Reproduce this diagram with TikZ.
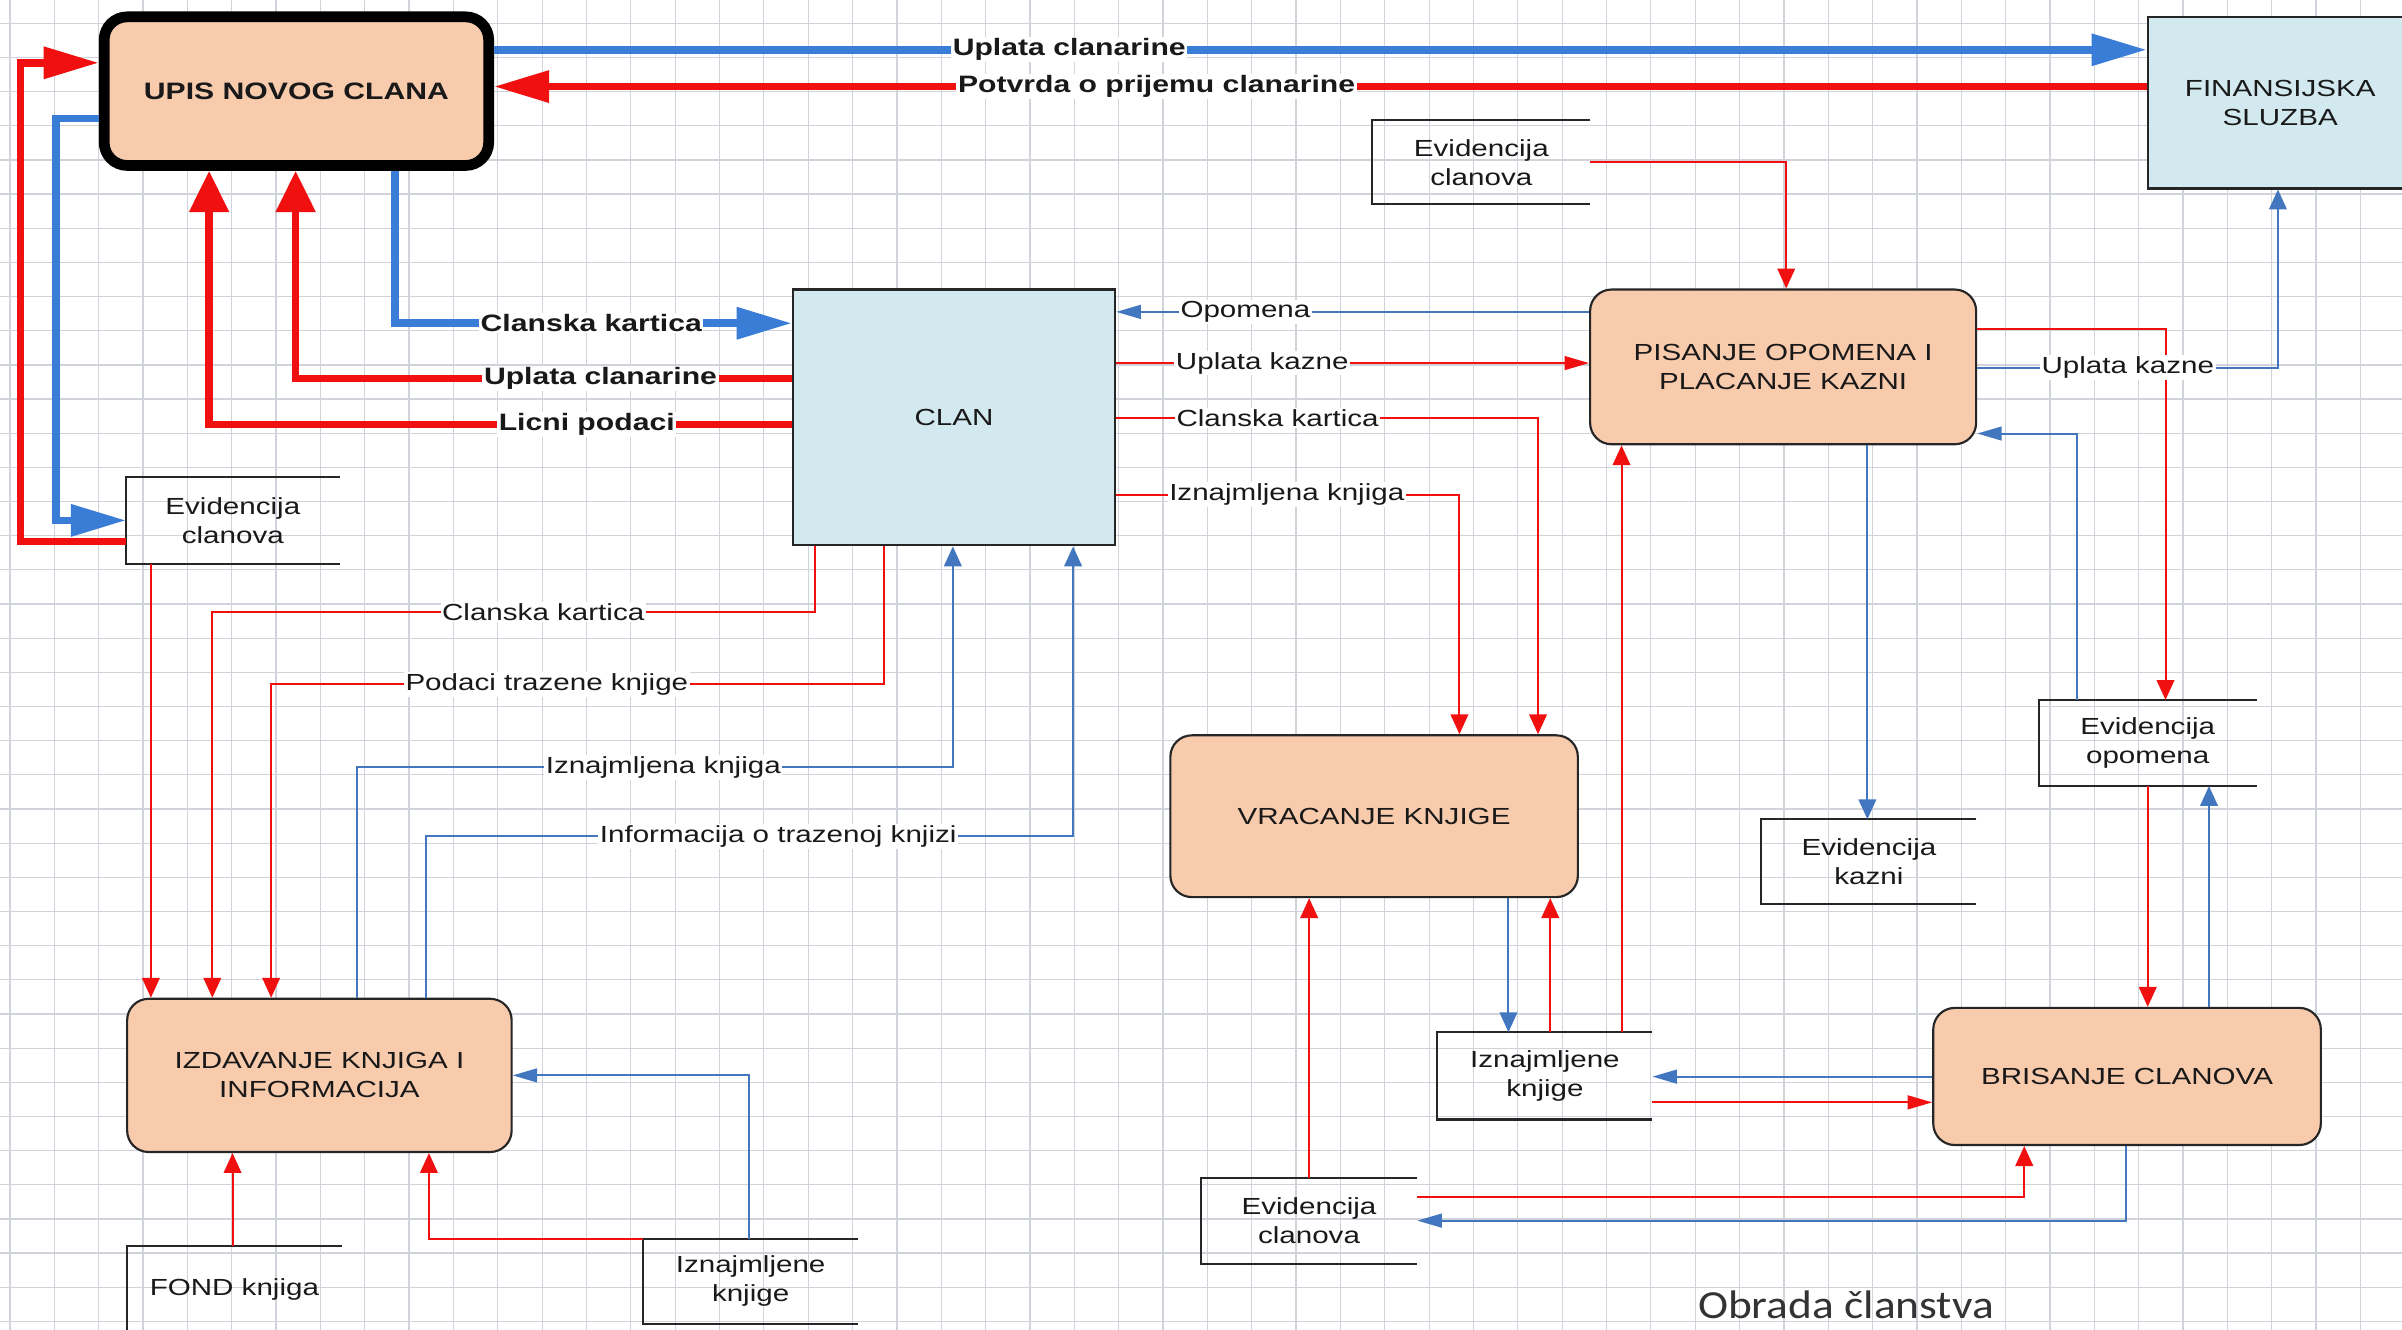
\documentclass[tikz,border=0pt]{standalone}
\usepackage{fontspec}
\setmainfont{Liberation Sans}[FakeStretch=1.27]
\newfontfamily\titlefont{Carlito}[FakeStretch=1.14]
\usetikzlibrary{arrows.meta}
\definecolor{peach}{RGB}{248,203,173}
\definecolor{lblue}{RGB}{210,233,240}
\definecolor{myred}{RGB}{240,16,16}
\definecolor{myblue}{RGB}{66,118,190}
\definecolor{tblue}{RGB}{58,125,214}
\definecolor{gridc}{RGB}{208,212,218}
\definecolor{txt}{RGB}{25,25,25}
\newcommand\myreg{\fontsize{15.2pt}{19pt}\selectfont}
\newcommand\mybold{\fontsize{15.5pt}{19pt}\selectfont\bfseries}
\begin{document}
\begin{tikzpicture}[x=1pt,y=-1pt,
  gridline/.style={draw=gridc, line width=0.8pt},
  proc/.style={draw=black!85, line width=1.4pt, rounded corners=14pt, fill=peach,
    inner sep=0pt, align=center, font=\myreg, text=txt},
  ent/.style={draw=black!85, line width=1.4pt, fill=lblue, inner sep=0pt,
    align=center, font=\myreg, text=txt},
  store/.style={inner sep=0pt, align=center, font=\myreg, text=txt},
  storeline/.style={draw=black!85, line width=1.4pt},
  tr/.style={draw=myred, line width=1.3pt},
  tb/.style={draw=myblue, line width=1.3pt},
  Tr/.style={draw=myred, line width=5pt},
  Tb/.style={draw=tblue, line width=5pt},
  aH/.style={-{Triangle[length=16pt,width=9pt]}},
  aV/.style={-{Triangle[length=13pt,width=11.5pt]}},
  AH/.style={-{Triangle[length=36pt,width=20pt]}},
  AV/.style={-{Triangle[length=27pt,width=25pt]}},
  lbl/.style={fill=white, inner xsep=1pt, inner ysep=1pt, font=\myreg, text=txt},
  blbl/.style={fill=white, inner xsep=1pt, inner ysep=1pt, font=\mybold, text=txt}
]
\useasboundingbox (0,0) rectangle (1568,868);
\clip (0,0) rectangle (1568,868);
\fill[white] (0,0) rectangle (1568,868);
\foreach \i in {0,...,54} \draw[gridline] ({6.5+28.95*\i},0) -- ({6.5+28.95*\i},868);
\foreach \j in {0,...,38} \draw[gridline] (0,{15.2+22.3*\j}) -- (1568,{15.2+22.3*\j});

% processes and entities
\node[proc, draw=black, line width=7pt, rounded corners=15pt, font=\mybold,
  minimum width=251pt, minimum height=97pt] (upis) at (193.5,59.5) {UPIS NOVOG CLANA};
\node[ent, minimum width=173pt, minimum height=112pt] (fin) at (1488.5,67) {FINANSIJSKA\\SLUZBA};
\node[ent, minimum width=210.4pt, minimum height=167pt] (clan) at (622.8,272.5) {CLAN};
\node[proc, minimum width=252pt, minimum height=101pt] (pis) at (1164,239.5) {PISANJE OPOMENA I\\PLACANJE KAZNI};
\node[proc, minimum width=266pt, minimum height=105.6pt] (vrac) at (897,532.8) {VRACANJE KNJIGE};
\node[proc, minimum width=251pt, minimum height=100pt] (izd) at (208.5,702) {IZDAVANJE KNJIGA I\\INFORMACIJA};
\node[proc, minimum width=253pt, minimum height=89.5pt] (bris) at (1388.5,702.7) {BRISANJE CLANOVA};

% data stores
\node[store, minimum width=142pt, minimum height=54.3pt] (ev1) at (967,105.9) {Evidencija\\clanova};
\node[store, minimum width=139pt, minimum height=56pt] (ev2) at (152,339.7) {Evidencija\\clanova};
\node[store, minimum width=142pt, minimum height=55.8pt] (evop) at (1402,485) {Evidencija\\opomena};
\node[store, minimum width=140pt, minimum height=55pt] (evk) at (1220,562.5) {Evidencija\\kazni};
\node[store, minimum width=140pt, minimum height=56.6pt] (izn1) at (1008.5,702.3) {Iznajmljene\\knjige};
\node[store, minimum width=141pt, minimum height=55.8pt] (ev3) at (854.5,797) {Evidencija\\clanova};
\node[store, minimum width=140pt, minimum height=56pt] (fond) at (153,841.5) {FOND knjiga};
\node[store, minimum width=140pt, minimum height=55pt] (izn2) at (490,836.4) {Iznajmljene\\knjige};
\foreach \s in {ev1,ev2,evop,evk,izn1,ev3,fond,izn2}
  \draw[storeline] (\s.north east) -- (\s.north west) -- (\s.south west) -- (\s.south east);

% thick connectors
\draw[Tb, AH] (upis.east |- 0,32.5) -- (fin.west |- 0,32.5);
\draw[Tr, AH] (fin.west |- 0,56.5) -- (upis.east |- 0,56.5);
\draw[Tb, AH] (upis.south -| 258,0) |- (clan.west |- 0,211);
\draw[Tr, AV] (clan.west |- 0,247) -| (upis.south -| 193,0);
\draw[Tr, AV] (clan.west |- 0,277) -| (upis.south -| 136.5,0);
\draw[Tb, AH] (upis.west |- 0,77.4) -| (36.6,339.7) -- (ev2.west |- 0,339.7);
\draw[Tr, AH] (ev2.west |- 0,353.5) -| (13.3,41) -- (upis.west |- 0,41);

% thin connectors, left part
\draw[tr, aV] (ev2.south -| 98.5,0) -- (izd.north -| 98.5,0);
\draw[tr, aV] (clan.south -| 532,0) |- (138.6,399.7) -- (izd.north -| 138.6,0);
\draw[tr, aV] (clan.south -| 577,0) |- (177,446.7) -- (izd.north -| 177,0);
\draw[tb, aV] (izd.north -| 233,0) |- (622,500.8) -- (clan.south -| 622,0);
\draw[tb, aV] (izd.north -| 278,0) |- (700.5,545.8) -- (clan.south -| 700.5,0);
\draw[tr, aV] (fond.north -| 151.8,0) -- (izd.south -| 151.8,0);
\draw[tr, aV] (izn2.north west) -| (izd.south -| 280,0);
\draw[tb, aH] (izn2.north -| 489,0) |- (izd.east |- 0,702);

% thin connectors, right part
\draw[tb, aH] (pis.west |- 0,203.6) -- (clan.east |- 0,203.6);
\draw[tr, aH] (clan.east |- 0,237) -- (pis.west |- 0,237);
\draw[tr, aV] (clan.east |- 0,273) -| (vrac.north -| 1004,0);
\draw[tr, aV] (clan.east |- 0,322.8) -| (vrac.north -| 952.7,0);
\draw[tr, aV] (ev1.east |- 0,106) -| (pis.north -| 1166,0);
\draw[tb, aV] (pis.east |- 0,240) -| (fin.south -| 1487,0);
\draw[tr, aV] (pis.east |- 0,215) -| (evop.north -| 1413.6,0);
\draw[tb, aH] (evop.north -| 1355.6,0) |- (pis.east |- 0,283);
\draw[tb, aV] (pis.south -| 1219,0) -- (evk.north -| 1219,0);
\draw[tr, aV] (evop.south -| 1402,0) -- (bris.north -| 1402,0);
\draw[tb, aV] (bris.north -| 1442,0) -- (evop.south -| 1442,0);
\draw[tb, aV] (vrac.south -| 984.7,0) -- (izn1.north -| 984.7,0);
\draw[tr, aV] (izn1.north -| 1012,0) -- (vrac.south -| 1012,0);
\draw[tr, aV] (izn1.north -| 1058.5,0) -- (pis.south -| 1058.5,0);
\draw[tb, aH] (bris.west |- 0,702.8) -- (izn1.east |- 0,702.8);
\draw[tr, aH] (izn1.east |- 0,719.6) -- (bris.west |- 0,719.6);
\draw[tr, aV] (ev3.north -| 854.6,0) -- (vrac.south -| 854.6,0);
\draw[tr, aV] (ev3.east |- 0,781.5) -| (bris.south -| 1321.4,0);
\draw[tb, aH] (bris.south -| 1387.5,0) |- (ev3.east |- 0,796.8);

% labels
\node[blbl] (l1) at (698,32.5) {Uplata clanarine};
\node[blbl] (l2) at (755,56.5) {Potvrda o prijemu clanarine};
\node[blbl] (l3) at (386,211) {Clanska kartica};
\node[blbl] (l4) at (392,247) {Uplata clanarine};
\node[blbl] (l5) at (383,277) {Licni podaci};
\node[lbl] (l6) at (354.6,399.7) {Clanska kartica};
\node[lbl] (l7) at (357,446.7) {Podaci trazene knjige};
\node[lbl] (l8) at (433,500.8) {Iznajmljena knjiga};
\node[lbl] (l9) at (508,545.8) {Informacija o trazenoj knjizi};
\node[lbl] (l10) at (813,203.6) {Opomena};
\node[lbl] (l11) at (824,237) {Uplata kazne};
\node[lbl] (l12) at (834,273) {Clanska kartica};
\node[lbl] (l13) at (840,322.8) {Iznajmljena knjiga};
\node[lbl] (l14) at (1389,240) {Uplata kazne};

\node[anchor=base, inner sep=0pt, font=\titlefont\fontsize{26pt}{30pt}\selectfont, text=black!80] (title) at (1205,861) {Obrada članstva};
\end{tikzpicture}
\end{document}
